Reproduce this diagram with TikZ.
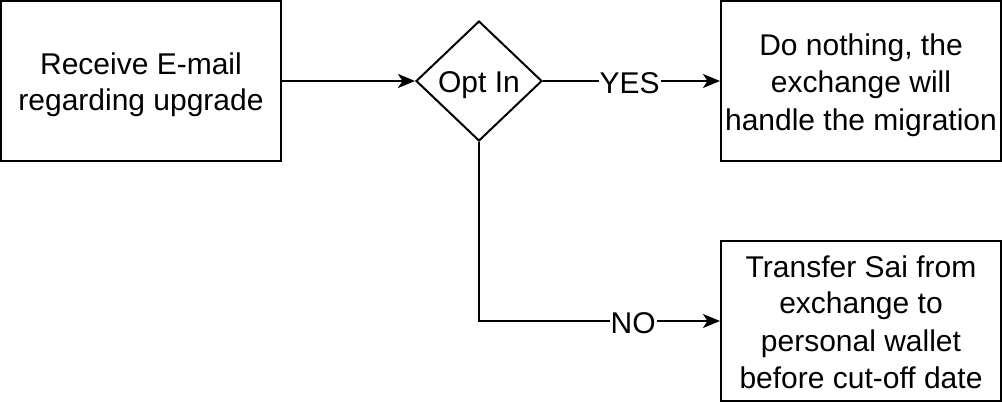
\documentclass[tikz,border=0pt]{standalone}
\usepackage{fontspec}
\setmainfont{Liberation Sans}
\usetikzlibrary{shapes.geometric,arrows.meta}
\newcommand\lnstrut{\rule[-6pt]{0pt}{36pt}}
\begin{document}
\begin{tikzpicture}[x=1pt,y=-1pt,
  every node/.style={font=\fontsize{30}{36}\selectfont},
  procbox/.style={draw,line width=2pt,minimum width=280pt,minimum height=160pt,align=center,inner sep=0pt},
  decision/.style={draw,diamond,line width=2pt,minimum width=126pt,minimum height=120pt,aspect=1.05,inner sep=0pt},
  flow/.style={line width=2pt,-{Stealth[length=17pt,width=14pt,inset=4.5pt]}},
  lbl/.style={fill=white,inner sep=1pt}]
\useasboundingbox (0,0) rectangle (1002,402);
\node[procbox] (b1) at (141,81) {\lnstrut Receive E-mail\\\lnstrut regarding upgrade};
\node[decision] (d) at (479,81) {\lnstrut Opt In};
\node[procbox] (b2) at (861,81) {\lnstrut Do nothing, the\\\lnstrut exchange will\\\lnstrut handle the migration};
\node[procbox] (b3) at (861,321) {\lnstrut Transfer Sai from\\\lnstrut exchange to\\\lnstrut personal wallet\\\lnstrut before cut-off date};
\draw[flow] (b1.east) -- (d.west);
\draw[flow] (d.east) -- node[lbl,pos=0.49] {\lnstrut YES} (b2.west);
\draw[flow] (d.south) |- node[lbl,pos=0.82] {\lnstrut NO} (b3.west);
\end{tikzpicture}
\end{document}
